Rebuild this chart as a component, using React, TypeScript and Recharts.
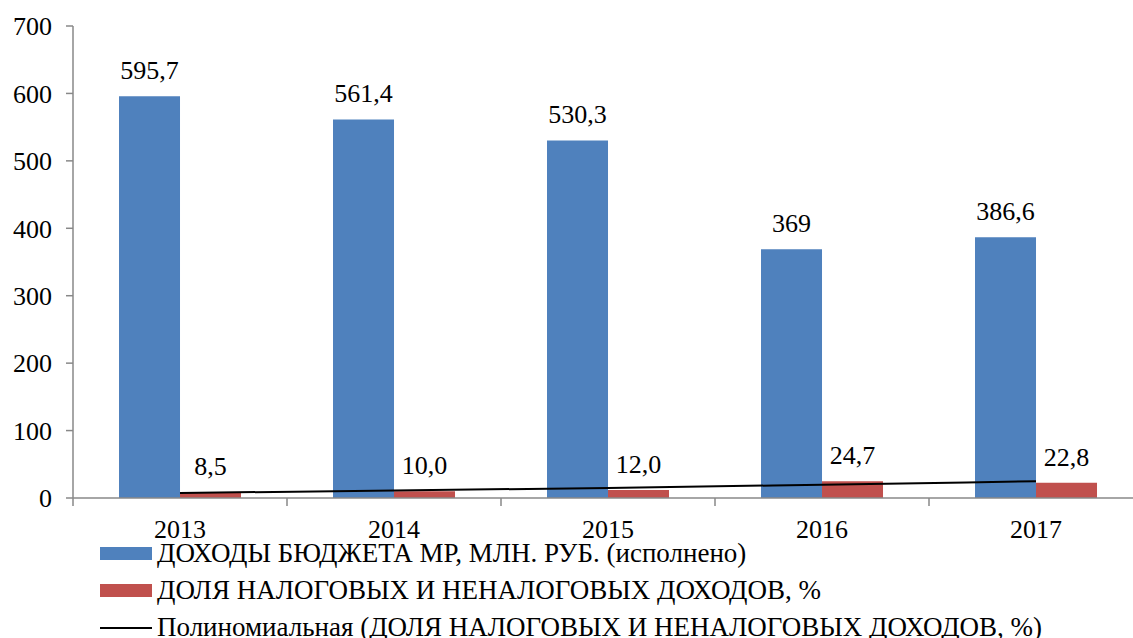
import React from 'react';
import { ComposedChart, Bar, Line, XAxis, YAxis, LabelList, Legend } from 'recharts';

const years = ['2013', '2014', '2015', '2016', '2017'];
const revenue = [595.7, 561.4, 530.3, 369, 386.6];
const share = [8.5, 10.0, 12.0, 24.7, 22.8];
const trend = [7.5, 11.0, 15.0, 19.7, 24.8];
const yTicks = [0, 100, 200, 300, 400, 500, 600, 700];
const seriesNames = [
  'ДОХОДЫ БЮДЖЕТА МР, МЛН. РУБ. (исполнено)',
  'ДОЛЯ НАЛОГОВЫХ И НЕНАЛОГОВЫХ ДОХОДОВ, %',
  'Полиномиальная (ДОЛЯ НАЛОГОВЫХ И НЕНАЛОГОВЫХ ДОХОДОВ, %)',
];

const data = years.map((y, i) => ({ year: y, revenue: revenue[i], share: share[i], trend: trend[i] }));

const BLUE = '#4F81BD';
const RED = '#C0504D';
const AXIS = '#888888';
const FONT = '"Liberation Serif", "Times New Roman", serif';

const CHART_W = 1150;
const MARGIN = { top: 26, right: 7, bottom: 100, left: 0 };
const Y_AXIS_W = 73;
const BAND = (CHART_W - MARGIN.left - MARGIN.right - Y_AXIS_W) / years.length;

const XTick = (props: any) => {
  const { x, y, payload, index } = props;
  const half = BAND / 2;
  return (
    <g>
      <line x1={x - half} y1={y} x2={x - half} y2={y + 8} stroke={AXIS} strokeWidth={1.5} />
      {index === years.length - 1 && (
        <line x1={x + half} y1={y} x2={x + half} y2={y + 8} stroke={AXIS} strokeWidth={1.5} />
      )}
      <text x={x} y={y + 31} dy="0.35em" textAnchor="middle" fontFamily={FONT} fontSize={26} fill="#000">
        {payload.value}
      </text>
    </g>
  );
};

const LegendBox = () => (
  <div style={{ fontFamily: FONT, fontSize: 27, color: '#000' }}>
    {seriesNames.map((n, i) => (
      <div key={i} style={{ display: 'flex', alignItems: 'center', height: 37, whiteSpace: 'nowrap' }}>
        {i < 2 ? (
          <div style={{ width: 52, height: 13, background: i === 0 ? BLUE : RED }} />
        ) : (
          <div style={{ width: 52, height: 2, background: '#000' }} />
        )}
        <span style={{ marginLeft: 5 }}>{n}</span>
      </div>
    ))}
  </div>
);

const fmtBlue = (v: any) => String(v).replace('.', ',');
const fmtRed = (v: any) => Number(v).toFixed(1).replace('.', ',');

export default function App() {
  return (
    <div style={{ position: 'absolute', left: 0, top: 0, width: 1133, height: 638, overflow: 'hidden', background: '#fff' }}>
      <ComposedChart
        width={CHART_W}
        height={638}
        data={data}
        margin={MARGIN}
        barCategoryGap="21.5%"
        barGap={0}
      >
        <XAxis
          dataKey="year"
          interval={0}
          tickLine={false}
          tickSize={0}
          tickMargin={0}
          axisLine={{ stroke: AXIS, strokeWidth: 1.5 }}
          tick={<XTick />}
          height={40}
        />
        <YAxis
          domain={[0, 700]}
          ticks={yTicks}
          interval={0}
          width={Y_AXIS_W}
          tickSize={7}
          tickMargin={14}
          axisLine={{ stroke: AXIS, strokeWidth: 1.5 }}
          tickLine={{ stroke: AXIS, strokeWidth: 1.5 }}
          tick={{ fill: '#000', fontSize: 26, fontFamily: FONT }}
        />
        <Bar dataKey="revenue" fill={BLUE} isAnimationActive={false} name={seriesNames[0]}>
          <LabelList dataKey="revenue" position="top" offset={17} formatter={fmtBlue} fill="#000" fontSize={26} fontFamily={FONT} />
        </Bar>
        <Bar dataKey="share" fill={RED} isAnimationActive={false} name={seriesNames[1]}>
          <LabelList dataKey="share" position="top" offset={17} formatter={fmtRed} fill="#000" fontSize={26} fontFamily={FONT} />
        </Bar>
        <Line
          dataKey="trend"
          type="monotone"
          stroke="#000"
          strokeWidth={2}
          dot={false}
          activeDot={false}
          isAnimationActive={false}
          name={seriesNames[2]}
        />
        <Legend
          layout="vertical"
          align="center"
          verticalAlign="middle"
          wrapperStyle={{ position: 'absolute', left: 100, top: 535, width: 1040, height: 111 }}
          content={() => <LegendBox />}
        />
      </ComposedChart>
    </div>
  );
}
